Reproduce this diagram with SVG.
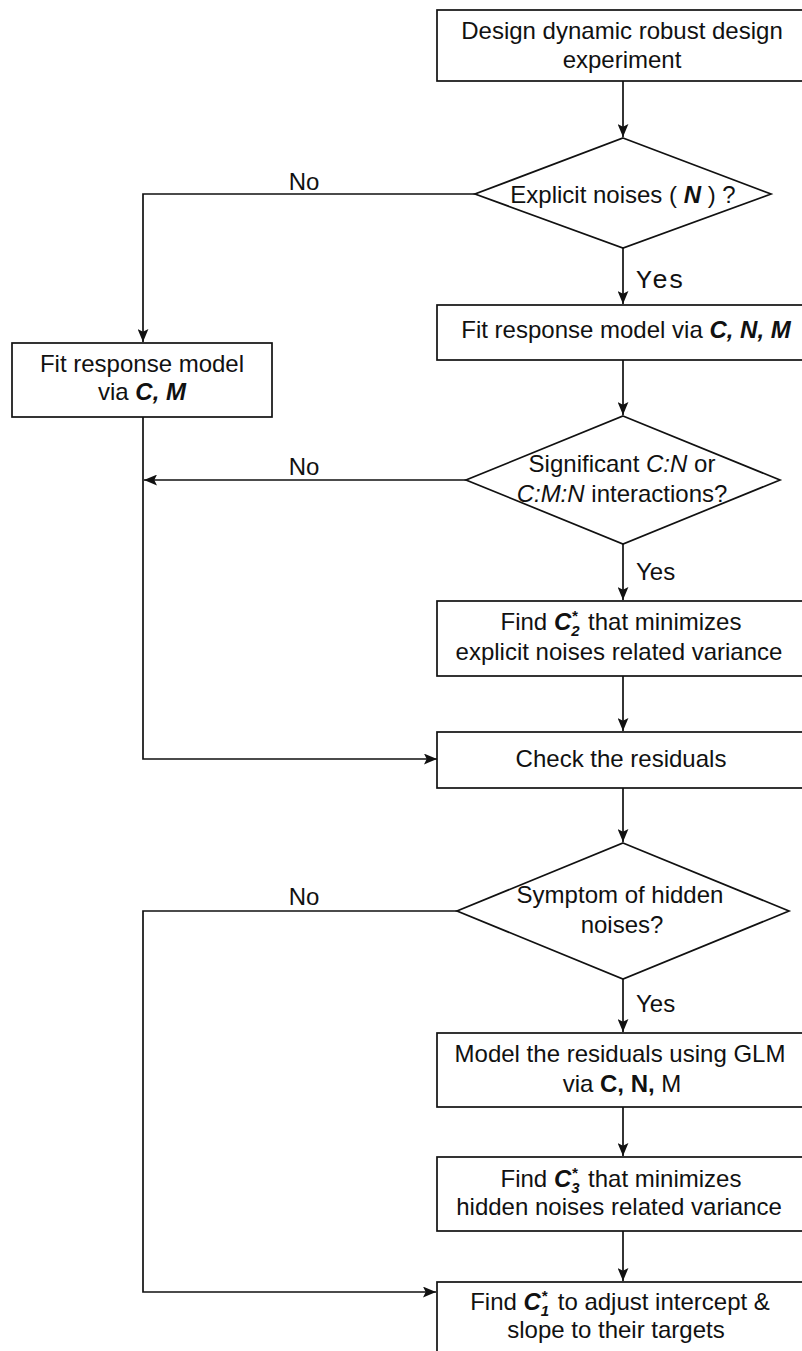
<svg xmlns="http://www.w3.org/2000/svg" width="802" height="1351" viewBox="0 0 802 1351">
<defs>
<style>
.box{fill:#fff;stroke:#111;stroke-width:1.7}
.t{font-family:"Liberation Sans",Arial,Helvetica,sans-serif;font-size:24px;fill:#111}
.m{font-family:"Liberation Mono","Courier New",monospace;font-size:25px;fill:#111}
.bi{font-weight:bold;font-style:italic}
.i{font-style:italic}
.b{font-weight:bold}
.sm{font-size:15px}
.c{fill:none;stroke:#111;stroke-width:1.7}
</style>
<marker id="ah" viewBox="0 0 12 10" refX="12" refY="5" markerWidth="13" markerHeight="11" markerUnits="userSpaceOnUse" orient="auto">
<path d="M0,0 L12,5 L0,10 L2.5,5 z" fill="#111"/>
</marker>
</defs>
<rect width="802" height="1351" fill="#fff"/>

<g id="connectors">
<path class="c" d="M623,81 V137" marker-end="url(#ah)"/>
<path class="c" d="M475,194 H143 V342" marker-end="url(#ah)"/>
<path class="c" d="M623,248 V304" marker-end="url(#ah)"/>
<path class="c" d="M623,360 V415" marker-end="url(#ah)"/>
<path class="c" d="M466,480 H144" marker-end="url(#ah)"/>
<path class="c" d="M143,417 V759 H437" marker-end="url(#ah)"/>
<path class="c" d="M623,544 V600" marker-end="url(#ah)"/>
<path class="c" d="M623,676 V731" marker-end="url(#ah)"/>
<path class="c" d="M623,788 V842" marker-end="url(#ah)"/>
<path class="c" d="M457,911 H143 V1292 H436" marker-end="url(#ah)"/>
<path class="c" d="M623,979 V1032" marker-end="url(#ah)"/>
<path class="c" d="M623,1107 V1156" marker-end="url(#ah)"/>
<path class="c" d="M623,1231 V1281" marker-end="url(#ah)"/>
<text class="t" x="304" y="190" text-anchor="middle">No</text>
<text class="m" x="636" y="288" textLength="48" lengthAdjust="spacingAndGlyphs">Yes</text>
<text class="t" x="304" y="475" text-anchor="middle">No</text>
<text class="t" x="636" y="580">Yes</text>
<text class="t" x="304" y="905" text-anchor="middle">No</text>
<text class="t" x="636" y="1012">Yes</text>
</g>

<g id="n-design">
<rect class="box" x="437" y="10" width="380" height="71"/>
<text class="t" x="622" y="39" text-anchor="middle">Design dynamic robust design</text>
<text class="t" x="622" y="68" text-anchor="middle">experiment</text>
</g>

<g id="d-explicit">
<polygon class="box" points="623,138 771,194 623,248 475,194"/>
<text class="t" x="623" y="203" text-anchor="middle">Explicit noises ( <tspan class="bi">N</tspan> ) ?</text>
</g>

<g id="n-fit-cnm">
<rect class="box" x="437" y="305" width="380" height="55"/>
<text class="t" x="626" y="338" text-anchor="middle">Fit response model via  <tspan class="bi">C, N, M</tspan></text>
</g>

<g id="n-fit-cm">
<rect class="box" x="12" y="343" width="260" height="74"/>
<text class="t" x="142" y="372" text-anchor="middle">Fit response model</text>
<text class="t" x="142" y="400" text-anchor="middle">via <tspan class="bi">C, M</tspan></text>
</g>

<g id="d-significant">
<polygon class="box" points="623,416 780,480 623,544 466,480"/>
<text class="t" x="622" y="472" text-anchor="middle">Significant  <tspan class="i">C:N</tspan> or</text>
<text class="t" x="622" y="502" text-anchor="middle"><tspan class="i">C:M:N</tspan> interactions?</text>
</g>

<g id="n-find-c2">
<rect class="box" x="437" y="601" width="380" height="75"/>
<text class="t" x="621" y="630" text-anchor="middle">Find <tspan class="bi">C</tspan><tspan class="bi sm" dy="6">2</tspan><tspan class="bi sm" dx="-8" dy="-15">*</tspan><tspan dx="4" dy="9"> that minimizes</tspan></text>
<text class="t" x="619" y="660" text-anchor="middle">explicit noises related variance</text>
</g>

<g id="n-check">
<rect class="box" x="437" y="732" width="380" height="56"/>
<text class="t" x="621" y="767" text-anchor="middle">Check the residuals</text>
</g>

<g id="d-symptom">
<polygon class="box" points="623,843 789,911 623,979 457,911"/>
<text class="t" x="620" y="903" text-anchor="middle">Symptom of hidden</text>
<text class="t" x="622" y="933" text-anchor="middle">noises?</text>
</g>

<g id="n-glm">
<rect class="box" x="437" y="1033" width="380" height="74"/>
<text class="t" x="620" y="1062" text-anchor="middle">Model the residuals using GLM</text>
<text class="t" x="622" y="1092" text-anchor="middle">via <tspan class="b">C, N,</tspan> M</text>
</g>

<g id="n-find-c3">
<rect class="box" x="437" y="1157" width="380" height="74"/>
<text class="t" x="621" y="1187" text-anchor="middle">Find <tspan class="bi">C</tspan><tspan class="bi sm" dy="6">3</tspan><tspan class="bi sm" dx="-8" dy="-15">*</tspan><tspan dx="4" dy="9"> that minimizes</tspan></text>
<text class="t" x="619" y="1215" text-anchor="middle">hidden noises related variance</text>
</g>

<g id="n-find-c1">
<rect class="box" x="437" y="1282" width="380" height="80"/>
<text class="t" x="620" y="1310" text-anchor="middle">Find <tspan class="bi">C</tspan><tspan class="bi sm" dy="6">1</tspan><tspan class="bi sm" dx="-8" dy="-15">*</tspan><tspan dx="4" dy="9"> to adjust intercept &amp;</tspan></text>
<text class="t" x="616" y="1338" text-anchor="middle">slope to their targets</text>
</g>
</svg>
